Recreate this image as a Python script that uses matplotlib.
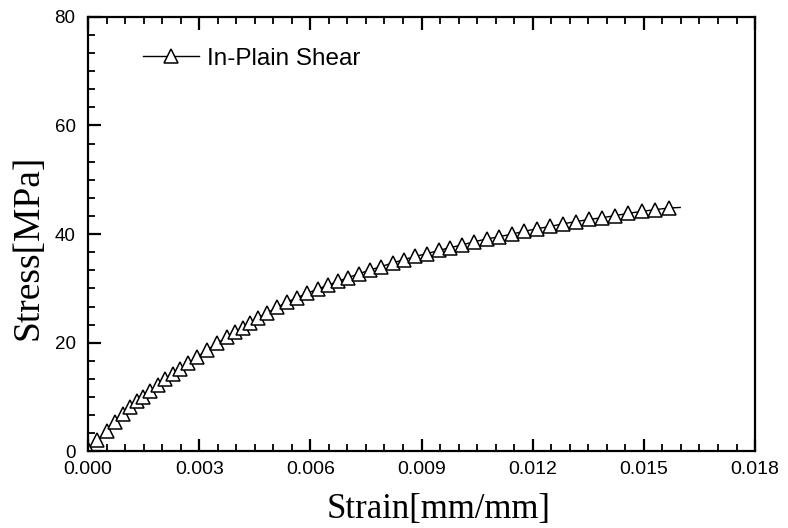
import matplotlib
matplotlib.use("Agg")
import matplotlib.pyplot as plt
from matplotlib.ticker import AutoMinorLocator, FormatStrFormatter

# In-plane shear test: strain (mm/mm) and stress (MPa)
strain = [
    0.00000, 0.00025, 0.00050, 0.00073, 0.00094, 0.00113, 0.00132, 0.00149,
    0.00168, 0.00188, 0.00208, 0.00228, 0.00248, 0.00271, 0.00295, 0.00322,
    0.00348, 0.00375, 0.00397, 0.00417, 0.00438, 0.00460, 0.00483, 0.00510,
    0.00537, 0.00564, 0.00591, 0.00620, 0.00647, 0.00675, 0.00702, 0.00731,
    0.00761, 0.00790, 0.00822, 0.00853, 0.00883, 0.00915, 0.00946, 0.00977,
    0.01009, 0.01042, 0.01076, 0.01109, 0.01143, 0.01177, 0.01212, 0.01247,
    0.01282, 0.01317, 0.01352, 0.01387, 0.01422, 0.01457, 0.01495, 0.01531,
    0.01567, 0.01598,
]
stress = [
    0.4, 2.1, 3.8, 5.5, 6.9, 8.2, 9.2, 10.1,
    11.2, 12.3, 13.3, 14.3, 15.2, 16.2, 17.4, 18.7,
    19.9, 21.0, 21.9, 22.8, 23.7, 24.6, 25.5, 26.5,
    27.5, 28.3, 29.1, 29.9, 30.6, 31.3, 32.0, 32.7,
    33.4, 34.0, 34.7, 35.3, 35.9, 36.4, 37.0, 37.5,
    38.0, 38.6, 39.1, 39.5, 40.0, 40.5, 41.0, 41.4,
    41.9, 42.3, 42.7, 43.0, 43.4, 43.8, 44.2, 44.5,
    44.8, 44.9,
]
series_label = "In-Plain Shear"
x_ticks = [0.000, 0.003, 0.006, 0.009, 0.012, 0.015, 0.018]
y_ticks = [0, 20, 40, 60, 80]

plt.rcParams["font.family"] = ["Liberation Sans", "DejaVu Sans"]

fig = plt.figure(figsize=(7.88, 5.28), dpi=100)
ax = fig.add_axes([0.1117, 0.1449, 0.8465, 0.8235])

# last sample closes the line without a marker
ax.plot(strain, stress, color="black", linewidth=1.0,
        marker="^", markersize=9.5, markerfacecolor="white",
        markeredgecolor="black", markeredgewidth=1.1,
        markevery=slice(0, len(strain) - 1), label=series_label)

ax.set_xlim(0, 0.018)
ax.set_ylim(0, 80)
ax.set_xticks(x_ticks)
ax.set_yticks(y_ticks)
ax.xaxis.set_major_formatter(FormatStrFormatter("%.3f"))
ax.xaxis.set_minor_locator(AutoMinorLocator(6))
ax.yaxis.set_minor_locator(AutoMinorLocator(6))

ax.tick_params(which="both", direction="in", top=True, right=False, width=1.6)
ax.tick_params(which="major", length=9)
ax.tick_params(axis="x", which="major", pad=7, labelsize=14)
ax.tick_params(axis="y", which="major", pad=9, labelsize=13.5)
ax.tick_params(which="minor", length=5, width=1.3)
for s in ax.spines.values():
    s.set_linewidth(1.6)

serif = ["Liberation Serif", "DejaVu Serif"]
ax.set_xlabel("Strain[mm/mm]", family=serif, fontsize=25)
ax.set_ylabel("Stress[MPa]", family=serif, fontsize=27)
ax.xaxis.set_label_coords(0.525, -0.095)
ax.yaxis.set_label_coords(-0.064, 0.47)

ax.legend(loc="center left", bbox_to_anchor=(0.083, 0.903), frameon=False,
          fontsize=17.5, handlelength=2.3, handletextpad=0.3, borderpad=0,
          borderaxespad=0)

fig.savefig("out.png", dpi=100)
